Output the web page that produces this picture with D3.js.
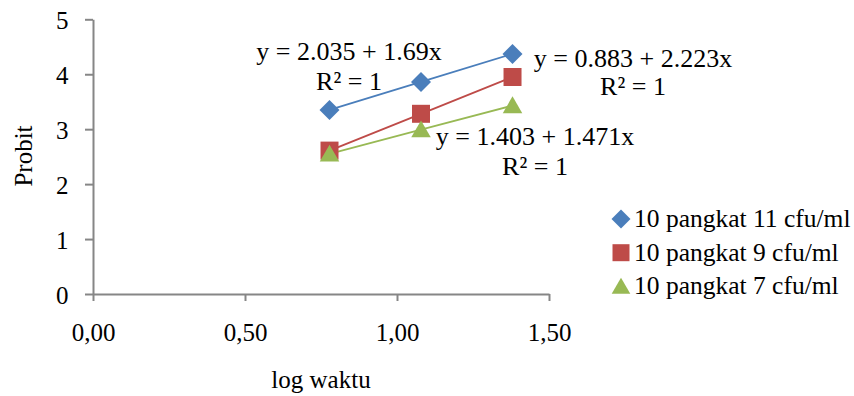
<!DOCTYPE HTML>
<html lang="en">
<head>
    <meta http-equiv="Content-Type" content="text/html; charset=utf-8">
    <title>Probit vs log waktu</title>
    <script src="https://cdn.jsdelivr.net/npm/d3@7/dist/d3.min.js"></script>
    <style type="text/css">
        html,body{margin:0;padding:0;background:#fff}
        svg text{font-family:"Liberation Serif","Times New Roman",serif;font-size:25px;fill:#000}
        svg text.eq{font-size:26px}
        svg text.leg{font-size:25.5px}
    </style>
</head>
<body>
<div id="svgWrap"></div>
<script type="text/javascript">
// data
var logWaktu=[0.778,1.079,1.380];
var seriesNames=["10 pangkat 11 cfu/ml","10 pangkat 9 cfu/ml","10 pangkat 7 cfu/ml"];
var probit11=[3.35,3.86,4.37];
var probit9=[2.61,3.28,3.95];
var probit7=[2.55,2.99,3.43];
var equations=["y = 2.035 + 1.69x","y = 0.883 + 2.223x","y = 1.403 + 1.471x"];
var rSquared=["R\u00b2 = 1","R\u00b2 = 1","R\u00b2 = 1"];
var xTicks=[0,0.5,1,1.5];
var yTicks=[0,1,2,3,4,5];

var colors=["#4a7ebb","#be4b48","#98b954"];
var W=854,H=396;
var plot={left:93,right:549,top:19.3,bottom:294};

var svg=d3.select("#svgWrap").append("svg")
    .attr("width",W)
    .attr("height",H);

var xScale=d3.scaleLinear().domain([0,1.5]).range([plot.left,plot.right]);
var yScale=d3.scaleLinear().domain([0,5]).range([plot.bottom,plot.top]);

function commaFmt(d){return d3.format(".2f")(d).replace(".",",");}

// axes
var xAxis=d3.axisBottom(xScale).tickValues(xTicks).tickFormat(commaFmt).tickSize(7).tickSizeOuter(0);
var yAxis=d3.axisLeft(yScale).tickValues(yTicks).tickFormat(d3.format("d")).tickSize(8).tickSizeOuter(0);

var gx=svg.append("g").attr("transform","translate(0,"+plot.bottom+")").call(xAxis);
var gy=svg.append("g").attr("transform","translate("+plot.left+",0)").call(yAxis);

[gx,gy].forEach(function(g){
    g.attr("font-family",null).attr("font-size",null);
    g.select(".domain").attr("stroke","#868686").attr("stroke-width",2);
    g.selectAll(".tick line").attr("stroke","#868686").attr("stroke-width",2);
    g.selectAll(".tick text").attr("fill","#000");
});
gx.selectAll(".tick text").attr("y",47).attr("dy",0);
gy.selectAll(".tick text").attr("x",-24.5).attr("dy",0).attr("y",9.5);

// axis titles
svg.append("text")
    .attr("text-anchor","middle")
    .attr("transform","translate(32,156) rotate(-90)")
    .text("Probit");
svg.append("text")
    .attr("text-anchor","middle")
    .attr("x",(plot.left+plot.right)/2)
    .attr("y",388)
    .text("log waktu");

// series
var series=[probit11,probit9,probit7];
var symbols=[
    d3.symbol().type(d3.symbolSquare).size(200),
    d3.symbol().type(d3.symbolSquare).size(324),
    d3.symbol().type(d3.symbolTriangle).size(165)
];
var rotations=[45,0,0];

var valuePath=d3.line()
    .x(function(d){return xScale(d[0])})
    .y(function(d){return yScale(d[1])});

series.forEach(function(vals,i){
    var pts=logWaktu.map(function(x,j){return [x,vals[j]];});
    svg.append("path")
        .datum(pts)
        .attr("fill","none")
        .attr("stroke",colors[i])
        .attr("stroke-width",1.8)
        .attr("d",valuePath);
});
series.forEach(function(vals,i){
    var pts=logWaktu.map(function(x,j){return [x,vals[j]];});
    svg.selectAll(".m"+i).data(pts).enter().append("path")
        .attr("class","m"+i)
        .attr("fill",colors[i])
        .attr("transform",function(d){
            var dy=(i==2)?2:0;
            return "translate("+xScale(d[0])+","+(yScale(d[1])+dy)+") rotate("+rotations[i]+")";
        })
        .attr("d",symbols[i]);
});

// trendline labels
var eqPos=[[349,60,90],[633,66.7,95],[535,145,175]];
equations.forEach(function(eq,i){
    svg.append("text").attr("class","eq").attr("text-anchor","middle")
        .attr("x",eqPos[i][0]).attr("y",eqPos[i][1]).text(eq);
    svg.append("text").attr("class","eq").attr("text-anchor","middle")
        .attr("x",eqPos[i][0]).attr("y",eqPos[i][2]).text(rSquared[i]);
});

// legend
var legend=svg.append("g").attr("transform","translate(621,219)");
var legendSymbols=[
    d3.symbol().type(d3.symbolSquare).size(180),
    d3.symbol().type(d3.symbolSquare).size(289),
    d3.symbol().type(d3.symbolTriangle).size(150)
];
seriesNames.forEach(function(name,i){
    var row=legend.append("g").attr("transform","translate(0,"+(i*33.7)+")");
    row.append("path")
        .attr("fill",colors[i])
        .attr("transform","translate(0,"+(i==2?2:0)+") rotate("+rotations[i]+")")
        .attr("d",legendSymbols[i]);
    row.append("text")
        .attr("class","leg")
        .attr("x",13)
        .attr("y",8)
        .text(name);
});
</script>
</body>
</html>
